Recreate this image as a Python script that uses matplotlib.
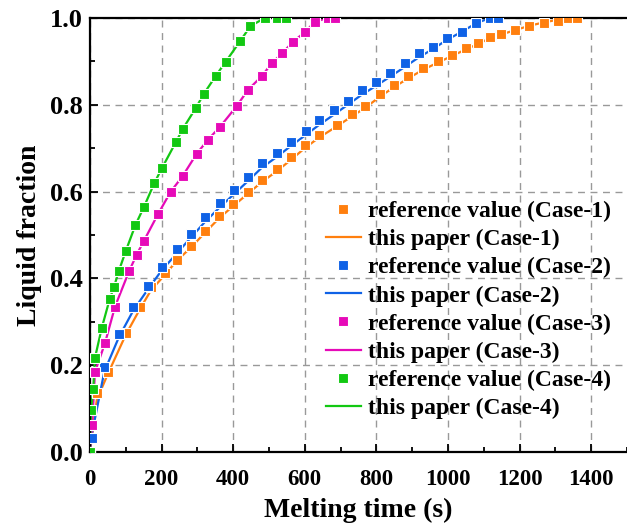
import numpy as np
import matplotlib
matplotlib.use("Agg")
import matplotlib.pyplot as plt
from matplotlib.ticker import MultipleLocator

plt.rcParams['font.family'] = ['Liberation Serif', 'DejaVu Serif']
plt.rcParams['font.weight'] = 'bold'

# melting time (s) and liquid fraction for each case
t1 = [0, 19, 50, 100, 140, 170, 209, 242, 283, 321, 360, 399, 441, 480, 522, 561,
      600, 639, 689, 731, 767, 809, 848, 887, 929, 971, 1010, 1051, 1084, 1116,
      1149, 1188, 1227, 1269, 1308, 1335, 1360]
f1 = [0, 0.136, 0.185, 0.274, 0.335, 0.380, 0.412, 0.442, 0.475, 0.509, 0.544,
      0.571, 0.599, 0.627, 0.651, 0.679, 0.708, 0.731, 0.754, 0.779, 0.797, 0.825,
      0.846, 0.866, 0.885, 0.901, 0.915, 0.931, 0.942, 0.957, 0.963, 0.972, 0.982,
      0.989, 0.994, 1.0, 1.0]

t2 = [0, 5, 40, 81, 121, 162, 200, 243, 282, 321, 363, 402, 441, 480, 522, 561,
      602, 639, 681, 720, 759, 798, 839, 879, 918, 957, 998, 1038, 1079, 1118, 1140]
f2 = [0, 0.032, 0.195, 0.272, 0.334, 0.382, 0.427, 0.468, 0.502, 0.541, 0.574,
      0.604, 0.634, 0.666, 0.689, 0.714, 0.740, 0.765, 0.788, 0.809, 0.834, 0.853,
      0.873, 0.896, 0.919, 0.933, 0.954, 0.968, 0.988, 1.0, 1.0]

t3 = [0, 6, 14, 42, 70, 109, 130, 151, 190, 225, 259, 298, 329, 363, 410, 441,
      480, 508, 537, 567, 601, 628, 664, 683]
f3 = [0, 0.062, 0.184, 0.251, 0.335, 0.416, 0.454, 0.487, 0.548, 0.599, 0.636,
      0.687, 0.719, 0.749, 0.797, 0.834, 0.866, 0.896, 0.919, 0.945, 0.968, 0.991,
      1.0, 1.0]

t4 = [0, 3, 9, 14, 33, 55, 67, 81, 100, 127, 151, 180, 201, 240, 259, 296, 318,
      351, 379, 419, 448, 488, 521, 548]
f4 = [0, 0.097, 0.145, 0.217, 0.286, 0.352, 0.380, 0.418, 0.463, 0.523, 0.565,
      0.620, 0.654, 0.714, 0.744, 0.793, 0.825, 0.866, 0.899, 0.946, 0.981, 1.0,
      1.0, 1.0]

# simulated curves (this paper)
s1 = [0, 0.120, 0.180, 0.270, 0.330, 0.372, 0.408, 0.440, 0.472, 0.505, 0.538,
      0.566, 0.595, 0.622, 0.647, 0.673, 0.700, 0.724, 0.750, 0.773, 0.792, 0.818,
      0.840, 0.860, 0.880, 0.897, 0.912, 0.928, 0.940, 0.953, 0.962, 0.972, 0.982,
      0.990, 0.996, 1.0, 1.0]
s2 = [0, 0.040, 0.185, 0.265, 0.326, 0.375, 0.418, 0.458, 0.494, 0.530, 0.564,
      0.594, 0.624, 0.655, 0.680, 0.705, 0.730, 0.753, 0.777, 0.800, 0.823, 0.843,
      0.865, 0.887, 0.909, 0.928, 0.950, 0.968, 0.988, 1.0, 1.0]

cases = [
    (t1, f1, s1, '#ff7f0e', 'Case-1'),
    (t2, f2, s2, '#0f62e6', 'Case-2'),
    (t3, f3, f3, '#e60ab8', 'Case-3'),
    (t4, f4, f4, '#12c812', 'Case-4'),
]

fig = plt.figure(figsize=(6.27, 5.28), dpi=100)
ax = fig.add_axes([0.1435, 0.144, 0.8565, 0.822])

for t, ref, sim, c, name in cases:
    ax.plot(t, ref, 's', color=c, markersize=7, markeredgecolor='white',
            markeredgewidth=0.8, zorder=3, label='reference value (%s)' % name)
    ax.plot(t, sim, '-', color=c, linewidth=1.6, zorder=2,
            label='this paper (%s)' % name)

ax.set_xlim(0, 1500)
ax.set_ylim(0, 1.0)
ax.xaxis.set_major_locator(MultipleLocator(200))
ax.xaxis.set_minor_locator(MultipleLocator(100))
ax.yaxis.set_major_locator(MultipleLocator(0.2))
ax.yaxis.set_minor_locator(MultipleLocator(0.1))
ax.yaxis.set_major_formatter(matplotlib.ticker.FormatStrFormatter('%.1f'))
ax.grid(True, which='major', linestyle=(0, (5, 4)), color='#999999', linewidth=1.0)
ax.set_axisbelow(True)

ax.tick_params(which='both', direction='in', top=False, right=False, width=1.3)
ax.tick_params(which='major', length=6)
ax.tick_params(which='minor', length=3.5)
ax.tick_params(axis='x', labelsize=16.5, pad=12)
ax.tick_params(axis='y', labelsize=19, pad=5)
for lab in ax.get_xticklabels() + ax.get_yticklabels():
    lab.set_fontweight('bold')

for s in ['left', 'bottom', 'top']:
    ax.spines[s].set_linewidth(1.6)
ax.spines['right'].set_visible(False)

ax.set_xlabel('Melting time (s)', fontsize=20, fontweight='bold', labelpad=6)
ax.set_ylabel('Liquid fraction', fontsize=20, fontweight='bold', labelpad=6)

leg = ax.legend(loc='upper left', bbox_to_anchor=(0.421, 0.601), frameon=False,
                borderaxespad=0, handlelength=1.5, handletextpad=0.3,
                labelspacing=0.28, prop={'weight': 'bold', 'size': 17})

fig.savefig('out.png', dpi=100)
